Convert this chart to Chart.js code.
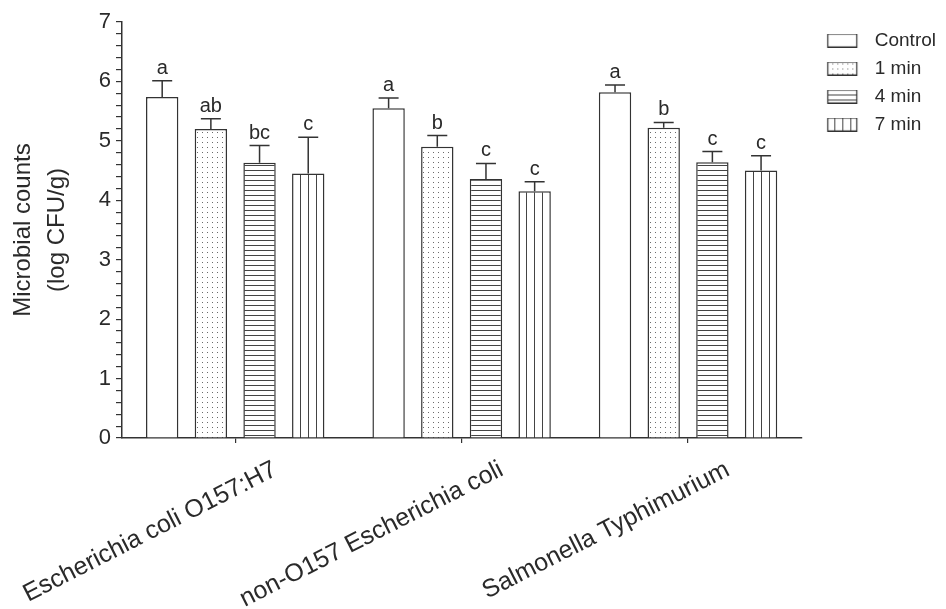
<!DOCTYPE html>
<html><head><meta charset="utf-8">
<script src="https://cdn.jsdelivr.net/npm/chart.js@4.4.1/dist/chart.umd.min.js"></script>
<style>html,body{margin:0;padding:0;background:#fff;overflow:hidden}#wrap{width:946px;height:609px;position:relative}</style>
</head><body><div id="wrap"><canvas id="c"></canvas></div>
<script>
// ---- data ----
const categories = ['Escherichia coli O157:H7', 'non-O157 Escherichia coli', 'Salmonella Typhimurium'];
const seriesNames = ['Control', '1 min', '4 min', '7 min'];
const controlMeans = [5.74, 5.55, 5.82];
const min1Means = [5.20, 4.90, 5.22];
const min4Means = [4.63, 4.36, 4.64];
const min7Means = [4.45, 4.15, 4.50];
const controlErr = [0.27, 0.17, 0.12];
const min1Err = [0.17, 0.19, 0.09];
const min4Err = [0.29, 0.26, 0.18];
const min7Err = [0.61, 0.16, 0.25];
const controlLetters = ['a', 'a', 'a'];
const min1Letters = ['ab', 'b', 'b'];
const min4Letters = ['bc', 'c', 'c'];
const min7Letters = ['c', 'c', 'c'];
const yAxisTitle = ['Microbial counts', '(log CFU/g)'];
const yMin = 0, yMax = 7, yMinorStep = 0.2;

// ---- styling ----
const FONT = '"Liberation Sans", Arial, Helvetica, sans-serif';
const INK = '#2a2a2a';
const CAT_PCT = 0.86, BAR_PCT = 0.665;
Chart.defaults.font.family = FONT;
Chart.defaults.color = INK;

function tile(kind) {
  const c = document.createElement('canvas');
  const g = c.getContext('2d');
  if (kind === 'dots') {
    c.width = 5; c.height = 5;
    g.fillStyle = '#fff'; g.fillRect(0, 0, 5, 5);
    g.fillStyle = '#6a6a6a'; g.fillRect(2, 2, 1, 1);
  } else if (kind === 'hlines') {
    c.width = 4; c.height = 5;
    g.fillStyle = '#fff'; g.fillRect(0, 0, 4, 5);
    g.fillStyle = '#444'; g.fillRect(0, 0, 4, 1);
  } else if (kind === 'vlines') {
    c.width = 8; c.height = 4;
    g.fillStyle = '#fff'; g.fillRect(0, 0, 8, 4);
    g.fillStyle = '#444'; g.fillRect(0, 0, 1, 4);
  } else {
    c.width = 2; c.height = 2;
    g.fillStyle = '#fff'; g.fillRect(0, 0, 2, 2);
  }
  return c;
}
const kinds = ['plain', 'dots', 'hlines', 'vlines'];
const tmpCtx = document.createElement('canvas').getContext('2d');
function pattern(kind, dx, dy) {
  const p = tmpCtx.createPattern(tile(kind), 'repeat');
  if (dx || dy) p.setTransform(new DOMMatrix([1, 0, 0, 1, dx || 0, dy || 0]));
  return p;
}
function barLeft(chart, di, idx) {
  const xs = chart.scales.x;
  const center = xs.getPixelForValue(idx);
  const group = (xs.width / categories.length) * CAT_PCT;
  const slot = group / seriesNames.length;
  const w = slot * BAR_PCT;
  return center - group / 2 + di * slot + (slot - w) / 2;
}
function fillFor(di) {
  return (ctx) => {
    if (ctx.type !== 'data' || !ctx.chart.scales.x) return pattern(kinds[di]);
    const left = barLeft(ctx.chart, di, ctx.dataIndex);
    return pattern(kinds[di], Math.round(left), 0);
  };
}
function legendIcon(kind) {
  const c = document.createElement('canvas');
  c.width = 55; c.height = 14;
  const g = c.getContext('2d');
  g.fillStyle = g.createPattern(tile(kind), 'repeat');
  g.fillRect(18, 1, 28, 12);
  g.strokeStyle = '#333'; g.lineWidth = 1.2;
  g.strokeRect(17.5, 0.5, 29, 13);
  return c;
}

const meansList = [controlMeans, min1Means, min4Means, min7Means];
const errList = [controlErr, min1Err, min4Err, min7Err];
const letterList = [controlLetters, min1Letters, min4Letters, min7Letters];

const datasets = seriesNames.map((name, di) => ({
  label: name,
  data: meansList[di],
  errors: errList[di],
  letters: letterList[di],
  backgroundColor: fillFor(di),
  borderColor: '#333',
  borderWidth: 1.5,
  borderSkipped: 'bottom',
  categoryPercentage: CAT_PCT,
  barPercentage: BAR_PCT
}));

const errorBarPlugin = {
  id: 'errorBars',
  afterDatasetsDraw(chart) {
    const ctx = chart.ctx, ys = chart.scales.y;
    chart.data.datasets.forEach((ds, di) => {
      const meta = chart.getDatasetMeta(di);
      meta.data.forEach((bar, i) => {
        const top = ys.getPixelForValue(ds.data[i] + ds.errors[i]);
        ctx.save();
        ctx.strokeStyle = '#333'; ctx.lineWidth = 1.5;
        ctx.beginPath();
        ctx.moveTo(bar.x, bar.y); ctx.lineTo(bar.x, top);
        ctx.moveTo(bar.x - 10, top); ctx.lineTo(bar.x + 10, top);
        ctx.stroke();
        ctx.fillStyle = INK;
        ctx.font = '20px ' + FONT;
        ctx.textAlign = 'center'; ctx.textBaseline = 'alphabetic';
        ctx.fillText(ds.letters[i], bar.x, top - 7);
        ctx.restore();
      });
    });
  }
};

new Chart(document.getElementById('c'), {
  type: 'bar',
  data: { labels: categories, datasets },
  options: {
    responsive: true,
    maintainAspectRatio: false,
    animation: false,
    layout: { padding: { top: 22, left: 0, right: 0, bottom: 0 } },
    plugins: {
      tooltip: { enabled: false },
      legend: {
        position: 'right',
        align: 'start',
        fullSize: false,
        labels: {
          usePointStyle: true,
          pointStyleWidth: 55,
          boxHeight: 14,
          padding: 9,
          color: INK,
          font: { size: 19, family: FONT },
          generateLabels(chart) {
            return chart.data.datasets.map((ds, i) => ({
              text: ds.label,
              pointStyle: legendIcon(kinds[i]),
              fillStyle: '#fff',
              strokeStyle: '#333',
              lineWidth: 0,
              hidden: false,
              datasetIndex: i,
              fontColor: INK
            }));
          }
        }
      }
    },
    scales: {
      x: {
        offset: true,
        afterFit(scale) { scale.height = 171; scale.paddingLeft = 0; scale.paddingRight = 0; },
        grid: { display: true, drawOnChartArea: false, drawTicks: true, tickLength: 5, offset: false, color: '#333', lineWidth: 1.2 },
        border: { display: true, color: '#333', width: 1.5 },
        ticks: {
          autoSkip: false,
          minRotation: 27, maxRotation: 27,
          labelOffset: 40,
          padding: 12,
          color: INK,
          font: { size: 25, family: FONT }
        }
      },
      y: {
        min: yMin, max: yMax,
        afterFit(scale) { scale.width = 122; scale.paddingTop = 0; scale.paddingBottom = 0; },
        afterBuildTicks(scale) {
          const t = [];
          for (let k = 0; k <= Math.round((yMax - yMin) / yMinorStep); k++) t.push({ value: +(yMin + k * yMinorStep).toFixed(4) });
          scale.ticks = t;
        },
        grid: { display: true, drawOnChartArea: false, drawTicks: true, tickLength: 6, color: '#333', lineWidth: 1.2 },
        border: { display: true, color: '#333', width: 1.5 },
        ticks: {
          autoSkip: false,
          padding: 5,
          color: INK,
          font: { size: 22, family: FONT },
          callback(v) { return Math.abs(v - Math.round(v)) < 1e-6 ? String(Math.round(v)) : ''; }
        },
        title: {
          display: true,
          text: yAxisTitle,
          color: INK,
          font: { size: 24, family: FONT, lineHeight: 1.4 },
          padding: { top: 7, bottom: 0 }
        }
      }
    }
  },
  plugins: [errorBarPlugin]
});
</script>
</body></html>
